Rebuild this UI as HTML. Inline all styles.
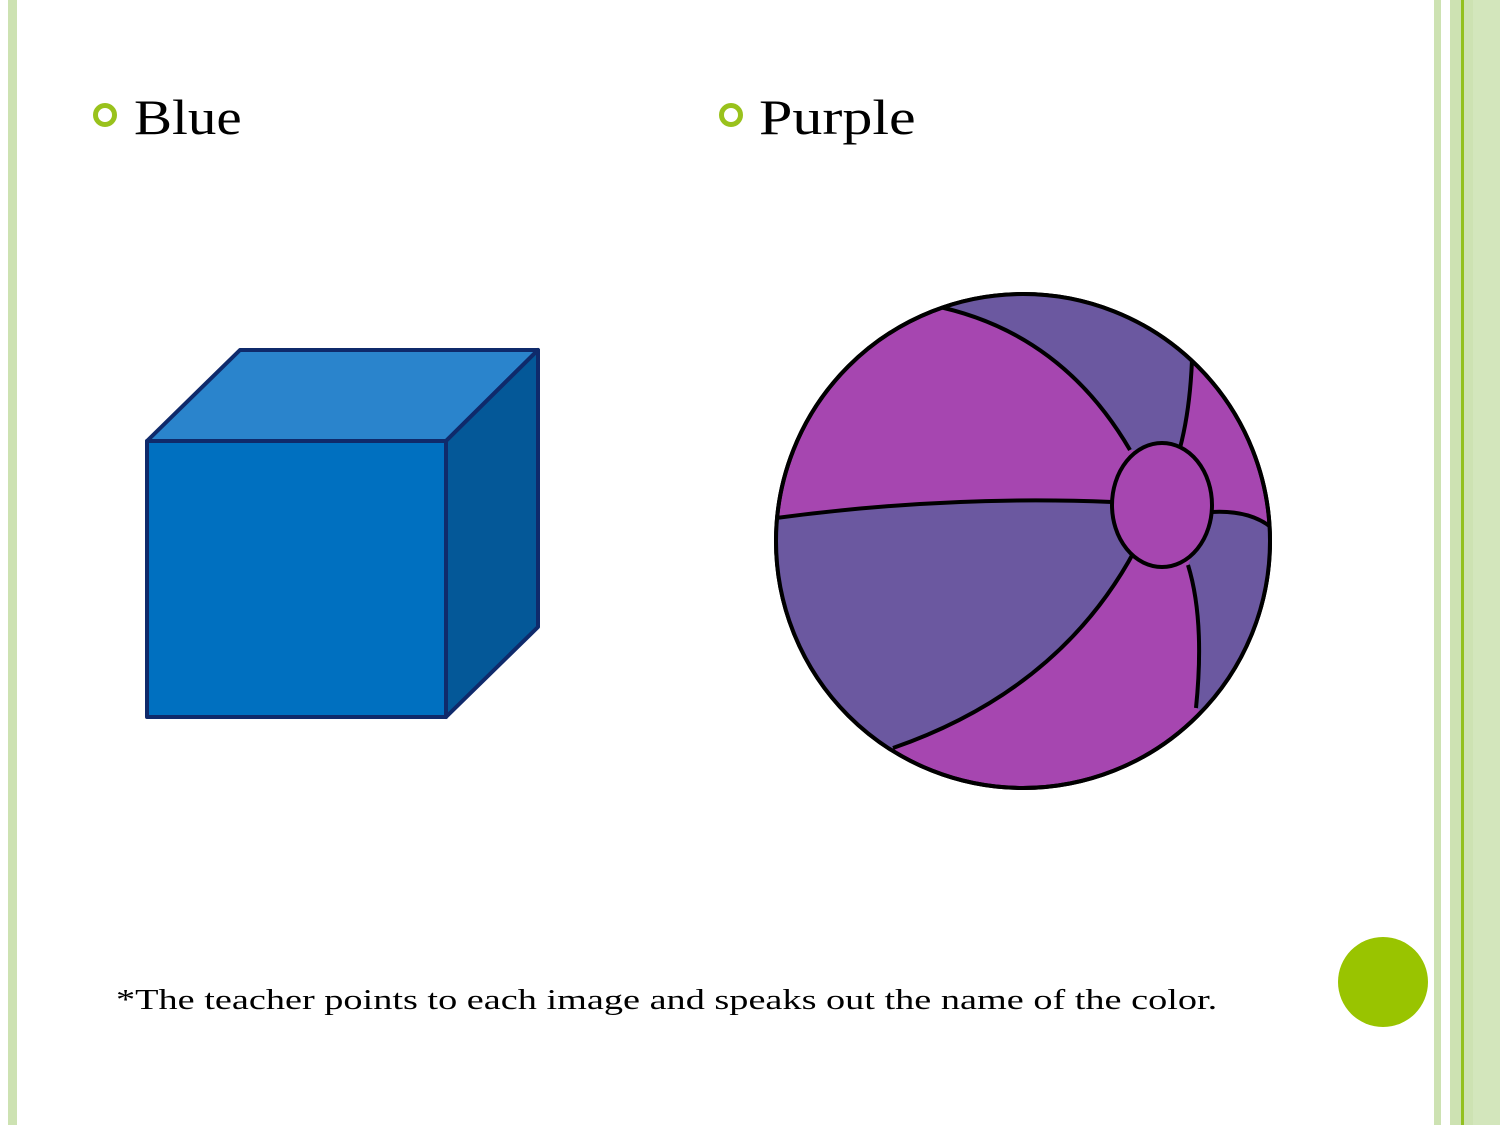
<!DOCTYPE html>
<html><head><meta charset="utf-8"><style>
body{margin:0;width:1500px;height:1125px;background:#fff;position:relative;overflow:hidden;font-family:"Liberation Serif",serif}
.s{position:absolute;top:0;height:1125px}
.t{position:absolute;font-size:50px;color:#000;transform-origin:0 0;white-space:nowrap}
.b{position:absolute;width:14px;height:14px;border:5px solid #99c21c;border-radius:50%}
</style></head><body>
<div class="s" style="left:8px;width:9px;background:#cde2b2"></div>
<div class="s" style="left:1434px;width:7px;background:#cde2b2"></div>
<div class="s" style="left:1450px;width:11px;background:#cde2b2"></div>
<div class="s" style="left:1461px;width:3px;background:#93c01f"></div>
<div class="s" style="left:1464px;width:9px;background:#cde2b2"></div>
<div class="s" style="left:1473px;width:27px;background:#d3e6bc"></div>
<div class="b" style="left:93px;top:103px"></div>
<div class="t" style="left:134px;top:88px;transform:scaleX(1.14)">Blue</div>
<div class="b" style="left:719px;top:103px"></div>
<div class="t" style="left:759px;top:88px;transform:scaleX(1.2)">Purple</div>
<svg width="1500" height="1125" style="position:absolute;left:0;top:0">
<g stroke="#0f2a6b" stroke-width="4" stroke-linejoin="round">
<polygon points="147,441 240,350 538,350 446,441" fill="#2a84cc"/>
<polygon points="446,441 538,350 538,627 446,717" fill="#045898"/>
<rect x="147" y="441" width="299" height="276" fill="#0070c0"/>
</g>
<g stroke="#000" stroke-width="4">
<clipPath id="c"><circle cx="1023" cy="541" r="247"/></clipPath>
<circle cx="1023" cy="541" r="247" fill="#a646b0"/>
<g clip-path="url(#c)">
<path d="M930,305 Q1060,330 1130,450 L1180,450 Q1190,410 1192,360 L1260,300 L900,250 Z" fill="#6b58a0" stroke="none"/>
<path d="M776,518 Q950,495 1112,502 Q1120,545 1135,550 Q1060,690 893,748 L750,760 L750,518 Z" fill="#6b58a0" stroke="none"/>
<path d="M1212,512 Q1250,510 1272,528 L1300,528 L1300,760 L1196,708 Q1205,620 1188,565 Z" fill="#6b58a0" stroke="none"/>
<path d="M930,305 Q1060,330 1130,450" fill="none"/>
<path d="M1192,360 Q1190,410 1180,448" fill="none"/>
<path d="M776,518 Q950,495 1112,502" fill="none"/>
<path d="M1135,550 Q1060,690 893,748" fill="none"/>
<path d="M1188,565 Q1205,620 1196,708" fill="none"/>
<path d="M1212,512 Q1250,510 1272,528" fill="none"/>
</g>
<ellipse cx="1162" cy="505" rx="50" ry="62" fill="#a646b0"/>
<circle cx="1023" cy="541" r="247" fill="none"/>
</g>
<circle cx="1383" cy="982" r="45" fill="#99c400"/>
</svg>
<div class="t" style="left:116px;top:984px;font-size:29px;transform:scaleX(1.32)">*The teacher points to each image and speaks out the name of the color.</div>
</body></html>
